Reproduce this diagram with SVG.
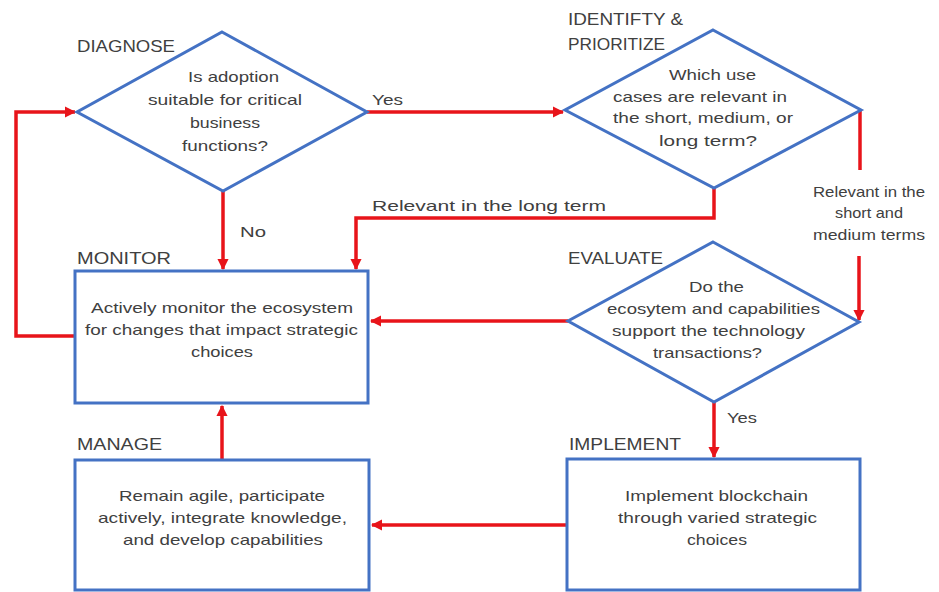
<svg xmlns="http://www.w3.org/2000/svg" width="939" height="592" viewBox="0 0 939 592">
  <style>
    .shape { fill: #ffffff; stroke: #4472C4; stroke-width: 3; }
    .conn { fill: none; stroke: #E8141A; stroke-width: 3.5; }
    .txt { font-family: "Liberation Sans", Arial, sans-serif; font-size: 15px; fill: #404040; }
    .mid { text-anchor: middle; }
    .head { font-family: "Liberation Sans", Arial, sans-serif; font-size: 17px; fill: #404040; }
  </style>
  <defs>
    <marker id="arrow" viewBox="0 0 10 10" refX="9" refY="5" markerWidth="3.2" markerHeight="3.2" orient="auto" markerUnits="strokeWidth">
      <path d="M0,0 L10,5 L0,10 Z" fill="#E8141A"/>
    </marker>
  </defs>
  <rect width="939" height="592" fill="#ffffff"/>

  <!-- connectors -->
  <g id="connectors">
    <path class="conn" d="M367,112 H563" marker-end="url(#arrow)"/>
    <path class="conn" d="M223,191 V269" marker-end="url(#arrow)"/>
    <path class="conn" d="M714,188 V218 H356 V269" marker-end="url(#arrow)"/>
    <path class="conn" d="M860,110 V170"/>
    <path class="conn" d="M859,256 V320" marker-end="url(#arrow)"/>
    <path class="conn" d="M568,321 H371" marker-end="url(#arrow)"/>
    <path class="conn" d="M714,402 V457" marker-end="url(#arrow)"/>
    <path class="conn" d="M567,525 H372" marker-end="url(#arrow)"/>
    <path class="conn" d="M222,460 V406" marker-end="url(#arrow)"/>
    <path class="conn" d="M75,336 H16 V112 H75" marker-end="url(#arrow)"/>
    <text class="txt" x="372" y="105" textLength="31" lengthAdjust="spacingAndGlyphs">Yes</text>
    <text class="txt" x="240" y="237" textLength="26" lengthAdjust="spacingAndGlyphs">No</text>
    <text class="txt" x="372" y="211" textLength="234" lengthAdjust="spacingAndGlyphs">Relevant in the long term</text>
    <text class="txt" x="813" y="197" textLength="112" lengthAdjust="spacingAndGlyphs">Relevant in the</text>
    <text class="txt" x="835" y="218" textLength="68" lengthAdjust="spacingAndGlyphs">short and</text>
    <text class="txt" x="813" y="240" textLength="112" lengthAdjust="spacingAndGlyphs">medium terms</text>
    <text class="txt" x="727" y="423" textLength="30" lengthAdjust="spacingAndGlyphs">Yes</text>
  </g>

  <!-- DIAGNOSE -->
  <g id="diagnose">
    <polygon class="shape" points="222,32 367,112 223,191 77,112"/>
    <text class="head" x="77" y="52" textLength="98" lengthAdjust="spacingAndGlyphs">DIAGNOSE</text>
    <text class="txt" x="188" y="82" textLength="91" lengthAdjust="spacingAndGlyphs">Is adoption</text>
    <text class="txt" x="148" y="105" textLength="154" lengthAdjust="spacingAndGlyphs">suitable for critical</text>
    <text class="txt" x="190" y="128" textLength="70" lengthAdjust="spacingAndGlyphs">business</text>
    <text class="txt" x="182" y="151" textLength="86" lengthAdjust="spacingAndGlyphs">functions?</text>
  </g>

  <!-- IDENTIFY & PRIORITIZE -->
  <g id="identify">
    <polygon class="shape" points="713,30 861,110 714,188 565,110"/>
    <text class="head" x="568" y="25" textLength="115" lengthAdjust="spacingAndGlyphs">IDENTIFTY &amp;</text>
    <text class="head" x="568" y="50" textLength="97" lengthAdjust="spacingAndGlyphs">PRIORITIZE</text>
    <text class="txt" x="669" y="80" textLength="87" lengthAdjust="spacingAndGlyphs">Which use</text>
    <text class="txt" x="613" y="102" textLength="174" lengthAdjust="spacingAndGlyphs">cases are relevant in</text>
    <text class="txt" x="613" y="123" textLength="180" lengthAdjust="spacingAndGlyphs">the short, medium, or</text>
    <text class="txt" x="659" y="146" textLength="98" lengthAdjust="spacingAndGlyphs">long term?</text>
  </g>

  <!-- MONITOR -->
  <g id="monitor">
    <rect class="shape" x="75" y="271" width="293" height="132"/>
    <text class="head" x="77" y="264" textLength="94" lengthAdjust="spacingAndGlyphs">MONITOR</text>
    <text class="txt" x="91" y="313" textLength="262" lengthAdjust="spacingAndGlyphs">Actively monitor the ecosystem</text>
    <text class="txt" x="85" y="335" textLength="273" lengthAdjust="spacingAndGlyphs">for changes that impact strategic</text>
    <text class="txt" x="191" y="357" textLength="62" lengthAdjust="spacingAndGlyphs">choices</text>
  </g>

  <!-- EVALUATE -->
  <g id="evaluate">
    <polygon class="shape" points="713,242 859,322 714,402 568,321"/>
    <text class="head" x="568" y="264" textLength="95" lengthAdjust="spacingAndGlyphs">EVALUATE</text>
    <text class="txt" x="689" y="292" textLength="55" lengthAdjust="spacingAndGlyphs">Do the</text>
    <text class="txt" x="607" y="314" textLength="213" lengthAdjust="spacingAndGlyphs">ecosytem and capabilities</text>
    <text class="txt" x="612" y="336" textLength="193" lengthAdjust="spacingAndGlyphs">support the technology</text>
    <text class="txt" x="653" y="358" textLength="109" lengthAdjust="spacingAndGlyphs">transactions?</text>
  </g>

  <!-- MANAGE -->
  <g id="manage">
    <rect class="shape" x="75" y="460" width="294" height="130"/>
    <text class="head" x="77" y="450" textLength="85" lengthAdjust="spacingAndGlyphs">MANAGE</text>
    <text class="txt" x="119" y="501" textLength="206" lengthAdjust="spacingAndGlyphs">Remain agile, participate</text>
    <text class="txt" x="98" y="523" textLength="249" lengthAdjust="spacingAndGlyphs">actively, integrate knowledge,</text>
    <text class="txt" x="123" y="545" textLength="200" lengthAdjust="spacingAndGlyphs">and develop capabilities</text>
  </g>

  <!-- IMPLEMENT -->
  <g id="implement">
    <rect class="shape" x="567" y="459" width="293" height="131"/>
    <text class="head" x="569" y="450" textLength="112" lengthAdjust="spacingAndGlyphs">IMPLEMENT</text>
    <text class="txt" x="625" y="501" textLength="183" lengthAdjust="spacingAndGlyphs">Implement blockchain</text>
    <text class="txt" x="618" y="523" textLength="199" lengthAdjust="spacingAndGlyphs">through varied strategic</text>
    <text class="txt" x="687" y="545" textLength="60" lengthAdjust="spacingAndGlyphs">choices</text>
  </g>
</svg>
